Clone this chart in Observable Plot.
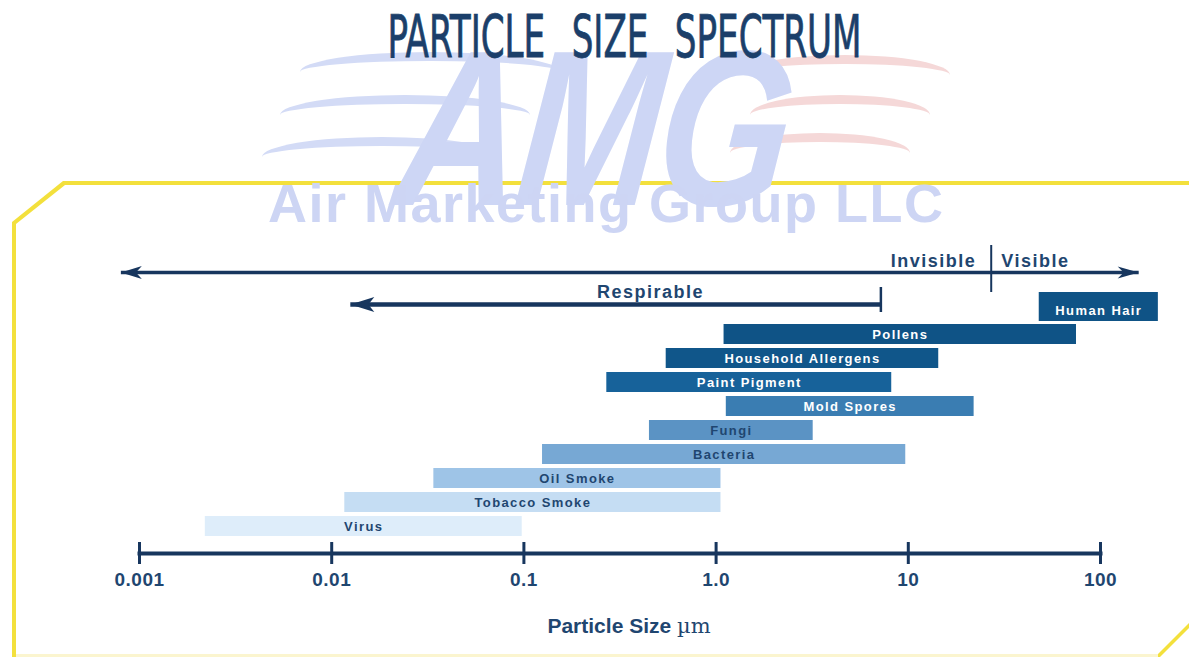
<!DOCTYPE html>
<html>
<head>
<meta charset="utf-8">
<title>Particle Size Spectrum</title>
<script src="https://cdn.jsdelivr.net/npm/d3@7"></script>
<script src="https://cdn.jsdelivr.net/npm/@observablehq/plot@0.6"></script>
<style>
  html, body { margin: 0; padding: 0; background: #ffffff; }
  #page { position: relative; width: 1189px; height: 657px; overflow: hidden; background: #ffffff; font-family: "Liberation Sans", Arial, sans-serif; }
  .layer { position: absolute; left: 0; top: 0; width: 1189px; height: 657px; }
  #panelOuter { background: #f3e03c; clip-path: polygon(12px 222px, 63px 181px, 1189px 181px, 1189px 628px, 1160px 657px, 12px 657px); }
  #panelInner { background: #ffffff; clip-path: polygon(16px 224px, 65px 185px, 1189px 185px, 1189px 623px, 1155px 657px, 16px 657px); }
  #panelBottom { position: absolute; left: 16px; top: 654px; width: 1142px; height: 3px; background: #fbf5cf; }
  .swoosh { position: absolute; border-top: 9px solid; border-radius: 50%; height: 40px; box-sizing: border-box; }
  .blue { border-top-color: #d3dbf6; }
  .red { border-top-color: #f5d8d8; }
  #amg { position: absolute; left: 392px; top: 17px; font: italic bold 222px/222px "Liberation Sans", Arial, sans-serif; color: #cdd6f5; transform-origin: 0 188px; transform: scaleX(0.77) skewX(-8deg); white-space: nowrap; letter-spacing: -4px; }
  #amgName { position: absolute; left: 268px; top: 176px; font: bold 54px/54px "Liberation Sans", Arial, sans-serif; color: #cdd5f4; letter-spacing: 1.5px; white-space: nowrap; }
  #title { position: absolute; left: 30px; top: 8px; width: 1189px; text-align: center; }
  #title span { display: inline-block; font-family: "Liberation Sans Narrow", "DejaVu Sans Condensed", "Liberation Sans", sans-serif; font-size: 58px; line-height: 58px; color: #1b3f6a; -webkit-text-stroke: 0.8px #1b3f6a; word-spacing: 24px; white-space: nowrap; transform-origin: 50% 50%; }
  #chart { position: absolute; left: 0; top: 80px; }
</style>
</head>
<body>
<div id="page">
  <div class="layer" id="panelOuter"></div>
  <div class="layer" id="panelInner"></div>
  <div id="panelBottom"></div>
  <div class="swoosh blue" style="left:300px; top:52px; width:260px;"></div>
  <div class="swoosh blue" style="left:280px; top:95px; width:250px;"></div>
  <div class="swoosh blue" style="left:262px; top:137px; width:240px;"></div>
  <div class="swoosh red" style="left:740px; top:55px; width:210px;"></div>
  <div class="swoosh red" style="left:750px; top:95px; width:180px;"></div>
  <div class="swoosh red" style="left:730px; top:133px; width:180px;"></div>
  <div id="amg">AMG</div>
  <div id="amgName">Air Marketing Group LLC</div>
  <div id="chart"></div>
  <div id="title"><span id="titleText">PARTICLE SIZE SPECTRUM</span></div>
</div>
<script>
// ---------- data ----------
const chartTitle = "PARTICLE SIZE SPECTRUM";
const particles = ["Human Hair", "Pollens", "Household Allergens", "Paint Pigment", "Mold Spores",
                   "Fungi", "Bacteria", "Oil Smoke", "Tobacco Smoke", "Virus"];
const sizeMin = [48, 1.1, 0.55, 0.27, 1.13, 0.45, 0.125, 0.034, 0.0117, 0.0022];   // µm
const sizeMax = [200, 75, 14.4, 8.2, 22, 3.2, 9.7, 1.06, 1.06, 0.098];             // µm
const tickValues = [0.001, 0.01, 0.1, 1, 10, 100];
const tickLabels = ["0.001", "0.01", "0.1", "1.0", "10", "100"];
const spectrumLabels = ["Invisible", "Visible"];
const spectrumEnds = [0.0008, 158];
const visibleFrom = 27;
const respirableLabel = "Respirable";
const respirableRange = [0.0125, 7.2];
const axisTitle = "Particle Size µm";

// ---------- styles ----------
const palette = ["#0f5386", "#0f5386", "#10568a", "#17629a", "#3a7db2",
                 "#5b93c4", "#77a8d4", "#9ec4e7", "#c5ddf3", "#deedfa"];
const lineNavy = "#17365e";
const textNavy = "#1f4670";

// title fit
const ts = document.getElementById("titleText");
ts.textContent = chartTitle;
const tw = ts.getBoundingClientRect().width;
ts.style.transform = `scaleX(${474 / tw})`;

// ---------- tables ----------
const table = particles.map((name, i) => ({name, low: sizeMin[i], high: sizeMax[i], color: palette[i]}));
const isDark = c => d3.lab(c).l < 55;
const rows = ["spectrum", "respirable", ...particles];
const tickLabelOf = new Map(tickValues.map((v, i) => [v, tickLabels[i]]));

function head(len, half, notch, dir) {
  return {
    draw(ctx) {
      ctx.moveTo(0, 0);
      ctx.lineTo(dir * len, -half);
      ctx.lineTo(dir * (len - notch), 0);
      ctx.lineTo(dir * len, half);
      ctx.closePath();
    }
  };
}

const W = 1189, H = 577, MT = 150, MB = 104;
const frameH = H - MT - MB;

const svg = Plot.plot({
  width: W,
  height: H,
  marginLeft: 139,
  marginRight: 89,
  marginTop: MT,
  marginBottom: MB,
  style: {background: "transparent", overflow: "visible", fontFamily: "'Liberation Sans', Arial, sans-serif"},
  x: {type: "log", domain: [0.001, 100]},
  y: {type: "band", domain: rows, range: [168, 460.5], padding: 0.17, round: true, axis: null},
  color: {domain: particles, range: palette},
  marks: [
    // bars
    Plot.barX(table.filter(d => d.name !== "Human Hair"), {x1: "low", x2: "high", y: "name", fill: "name"}),
    Plot.barX(table.filter(d => d.name === "Human Hair"), {x1: "low", x2: "high", y: "name", fill: "name", insetTop: -8, insetBottom: -1}),
    Plot.text(table.filter(d => isDark(d.color)), {x: d => Math.sqrt(d.low * d.high), y: "name", text: "name", fill: "white", fontSize: 13, fontWeight: "bold"}),
    Plot.text(table.filter(d => !isDark(d.color)), {x: d => Math.sqrt(d.low * d.high), y: "name", text: "name", fill: textNavy, fontSize: 13, fontWeight: "bold"}),

    // invisible / visible spectrum arrow
    Plot.link([spectrumEnds], {x1: d => d[0], x2: d => d[1], y1: () => "spectrum", y2: () => "spectrum", dy: 10, stroke: lineNavy, strokeWidth: 3.5}),
    Plot.dot([spectrumEnds[0]], {x: d => d, y: () => "spectrum", dy: 10, r: 6, symbol: head(21, 6.5, 6, 1), fill: lineNavy, stroke: "none"}),
    Plot.dot([spectrumEnds[1]], {x: d => d, y: () => "spectrum", dy: 10, r: 6, symbol: head(21, 6, 6, -1), fill: lineNavy, stroke: "none"}),
    Plot.tickX([visibleFrom], {x: d => d, y: () => "spectrum", insetTop: -7, insetBottom: -20, stroke: lineNavy, strokeWidth: 2}),
    Plot.text([spectrumLabels[0]], {x: () => visibleFrom, y: () => "spectrum", text: d => d, dx: -15, dy: 4, textAnchor: "end", lineAnchor: "bottom", fontSize: 18, fontWeight: "bold", fill: textNavy}),
    Plot.text([spectrumLabels[1]], {x: () => visibleFrom, y: () => "spectrum", text: d => d, dx: 10, dy: 4, textAnchor: "start", lineAnchor: "bottom", fontSize: 18, fontWeight: "bold", fill: textNavy}),

    // respirable arrow
    Plot.link([respirableRange], {x1: d => d[1], x2: d => d[0], y1: () => "respirable", y2: () => "respirable", dy: 18, stroke: lineNavy, strokeWidth: 4.5}),
    Plot.dot([respirableRange[0]], {x: d => d, y: () => "respirable", dy: 18, r: 6, symbol: head(24, 7.5, 6, 1), fill: lineNavy, stroke: "none"}),
    Plot.tickX([respirableRange[1]], {x: d => d, y: () => "respirable", insetTop: 11, insetBottom: -16, stroke: lineNavy, strokeWidth: 2.5}),
    Plot.text([respirableLabel], {x: () => Math.sqrt(respirableRange[0] * respirableRange[1]), y: () => "respirable", text: d => d, dx: 35, dy: 11, lineAnchor: "bottom", fontSize: 18, fontWeight: "bold", fill: textNavy}),

    // axis
    Plot.frame({anchor: "bottom", stroke: lineNavy, strokeWidth: 4}),
    Plot.tickX(tickValues, {x: d => d, insetTop: frameH - 11, insetBottom: -11, stroke: lineNavy, strokeWidth: 3}),
    Plot.axisX(tickValues, {tickSize: 0, tickPadding: 19, tickFormat: d => tickLabelOf.get(d), fontSize: 19, fontWeight: "bold", color: textNavy, label: null}),
    Plot.text([axisTitle], {frameAnchor: "bottom", text: d => d, lineAnchor: "bottom", dx: 9, dy: 79, fontSize: 21, fontWeight: "bold", fill: textNavy})
  ]
});

// fine text styling
d3.select(svg).selectAll("text").each(function () {
  const t = this.textContent;
  if (particles.includes(t)) this.setAttribute("letter-spacing", "1.4");
  else if (spectrumLabels.includes(t) || t === respirableLabel) this.setAttribute("letter-spacing", "1.5");
  else if (tickLabels.includes(t)) this.setAttribute("letter-spacing", "0.5");
  else if (t === axisTitle) {
    const parts = axisTitle.split(" ");
    const unit = parts.pop();
    this.textContent = "";
    const a = document.createElementNS("http://www.w3.org/2000/svg", "tspan");
    a.textContent = parts.join(" ") + " ";
    const b = document.createElementNS("http://www.w3.org/2000/svg", "tspan");
    b.textContent = unit;
    b.setAttribute("font-weight", "normal");
    b.setAttribute("font-family", "'DejaVu Serif', serif");
    this.appendChild(a);
    this.appendChild(b);
  }
});

document.getElementById("chart").appendChild(svg);
</script>
</body>
</html>
